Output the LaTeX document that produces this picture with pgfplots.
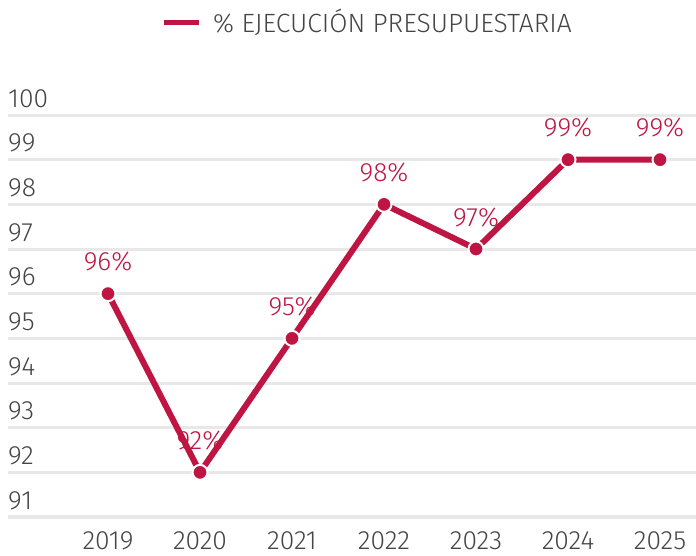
\documentclass[border=0pt]{standalone}
\usepackage{pgfplots}
\pgfplotsset{compat=1.18}
\usepackage{fontspec}
\setmainfont{Fira Sans Light}
\definecolor{crim}{HTML}{BE1542}
\definecolor{txt}{HTML}{454545}
\definecolor{grd}{HTML}{E8E8E8}
\begin{document}
\fontsize{26.5}{30}\selectfont
\begin{tikzpicture}
\path[use as bounding box] (0,0) rectangle (696bp,556bp);
\begin{axis}[
 at={(8bp,39bp)}, anchor=south west,
 scale only axis, width=688bp, height=402bp,
 xmin=-1.087, xmax=6.391, ymin=91, ymax=100,
 axis line style={draw=none},
 major tick length=0pt,
 xtick={0,...,6}, xticklabels={2019,2020,2021,2022,2023,2024,2025},
 ytick={91,...,100},
 ymajorgrids, xmajorgrids=false,
 grid style={grd, line width=3bp},
 tick label style={font=\fontsize{26.5}{30}\selectfont, text=txt, inner sep=0pt},
 yticklabel style={anchor=base west, yshift=8bp},
 xticklabel style={anchor=north, yshift=-14bp},
 /pgf/number format/assume math mode=true,
 clip=false,
 legend style={at={(0.5225,1.2289)}, anchor=center, draw=none, fill=none,
   font=\fontsize{26.5}{30}\selectfont, text=txt,
   /tikz/every odd column/.style={column sep=10bp}},
 legend image code/.code={\draw[crim, line width=5bp] (0bp,0bp) -- (35bp,0bp);},
]
\addplot[crim, line width=6bp, mark=*, mark size=7.5bp,
 mark options={fill=crim, draw=white, line width=2bp},
 nodes near coords={\pgfmathprintnumber{\pgfplotspointmeta}\%},
 every node near coord/.append style={font=\fontsize{26.5}{30}\selectfont, text=crim, anchor=base, yshift=23bp, inner sep=0pt}]
 coordinates {(0,96)(1,92)(2,95)(3,98)(4,97)(5,99)(6,99)};
\addlegendentry{\% EJECUCIÓN PRESUPUESTARIA}
\end{axis}
\end{tikzpicture}
\end{document}
